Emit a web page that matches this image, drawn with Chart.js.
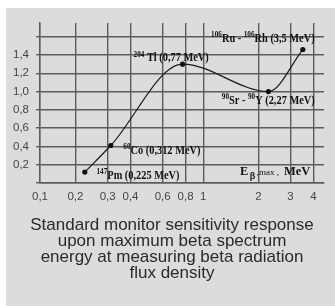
<!DOCTYPE html>
<html>
<head>
<meta charset="utf-8">
<script src="https://cdn.jsdelivr.net/npm/chart.js@4.4.1/dist/chart.umd.min.js"></script>
<style>
  html, body { margin: 0; padding: 0; background: #ffffff; }
  #panel { position: absolute; left: 6px; top: 8px; width: 329px; height: 298px; background: #dcdcdc; }
  #wrap { position: absolute; left: 0; top: 0; width: 335px; height: 307px; }
</style>
</head>
<body>
<div id="panel"></div>
<div id="wrap"><canvas id="c" width="335" height="307"></canvas></div>
<script>
// ---- data ----
const isotopes = ['147Pm', '60Co', '204Tl', '90Sr-90Y', '106Ru-106Rh'];
const energyMeV = [0.225, 0.312, 0.77, 2.27, 3.5];
const sensitivity = [0.12, 0.41, 1.30, 1.0, 1.46];
const xTickValues = [0.1, 0.2, 0.3, 0.4, 0.6, 0.8, 1, 2, 3, 4];
const xTickLabels = ['0,1', '0,2', '0,3', '0,4', '0,6', '0,8', '1', '2', '3', '4'];
const yTickValues = [0, 0.2, 0.4, 0.6, 0.8, 1.0, 1.2, 1.4, 1.6];
const yTickLabels = ['', '0,2', '0,4', '0,6', '0,8', '1,0', '1,2', '1,4', ''];
const pointLabels = [
  [['147', true], ['Pm (0,225 MeV)', false]],
  [['60', true], ['Co (0,312 MeV)', false]],
  [['204', true], [' Tl (0,77 MeV)', false]],
  [['90', true], ['Sr - ', false], ['90', true], ['Y (2,27 MeV)', false]],
  [['106', true], ['Ru - ', false], ['106', true], ['Rh (3,5 MeV)', false]]
];
const titleLines = ['Standard monitor sensitivity response', 'upon maximum beta spectrum', 'energy at measuring beta radiation', 'flux density'];

// label placement relative to its point (dx to text start, dy to baseline)
const labelOffsets = [[11.7, 6.6], [12.6, 8], [-49, -3], [-46.6, 12.3], [-91.7, -8]];

const serif = '"Liberation Serif", "Times New Roman", serif';
const sans = '"Liberation Sans", Arial, sans-serif';

const annot = {
  id: 'annot',
  afterDatasetsDraw(chart) {
    const ctx = chart.ctx;
    const xs = chart.scales.x, ys = chart.scales.y;
    const sx = 0.9;
    ctx.save();
    ctx.fillStyle = '#111';
    ctx.textBaseline = 'alphabetic';
    ctx.textAlign = 'left';
    pointLabels.forEach((parts, i) => {
      const px = xs.getPixelForValue(energyMeV[i]);
      const py = ys.getPixelForValue(sensitivity[i]);
      let x = px + labelOffsets[i][0];
      const base = py + labelOffsets[i][1];
      parts.forEach(([t, sup]) => {
        ctx.font = sup ? 'bold 8px ' + serif : 'bold 11.5px ' + serif;
        const w = ctx.measureText(t).width * sx;
        ctx.save();
        ctx.translate(x, sup ? base - 4.5 : base);
        ctx.scale(sx, 1);
        ctx.fillText(t, 0, 0);
        ctx.restore();
        x += w;
      });
    });
    // axis title inside plot
    const ca = chart.chartArea;
    const b = ca.bottom - 8;
    let x = ca.right - 84;
    ctx.font = 'bold 12.5px ' + serif;
    ctx.fillText('E', x, b);
    x += ctx.measureText('E').width + 1.5;
    ctx.font = 'bold 9px ' + sans;
    ctx.fillText('β', x, b + 4);
    x += ctx.measureText('β').width + 1.5;
    ctx.font = '9px ' + serif;
    ctx.fillText(',max ,', x, b - 0.5);
    ctx.font = 'bold 12.5px ' + serif;
    ctx.fillText('MeV', ca.right - 40, b);
    ctx.restore();
  },
  afterDraw(chart) {
    const ctx = chart.ctx;
    ctx.save();
    ctx.fillStyle = '#2a2a2a';
    ctx.font = '17px ' + sans;
    ctx.textAlign = 'center';
    ctx.textBaseline = 'middle';
    titleLines.forEach((t, i) => ctx.fillText(t, 172, 225 + i * 16.2));
    ctx.restore();
  }
};

new Chart(document.getElementById('c'), {
  type: 'line',
  data: {
    labels: isotopes,
    datasets: [{
      data: energyMeV.map((e, i) => ({ x: e, y: sensitivity[i] })),
      borderColor: '#1a1a1a',
      borderWidth: 1.2,
      backgroundColor: '#111',
      pointRadius: 2.6,
      pointBorderWidth: 0,
      pointBackgroundColor: '#111',
      cubicInterpolationMode: 'monotone',
      fill: false
    }]
  },
  options: {
    responsive: false,
    animation: false,
    devicePixelRatio: 1,
    layout: { padding: { left: 0, right: 11, top: 23, bottom: 98.3 } },
    plugins: {
      legend: { display: false },
      tooltip: { enabled: false },
      title: { display: false }
    },
    scales: {
      x: {
        type: 'logarithmic',
        min: 0.128,
        max: 4.57,
        afterBuildTicks(scale) {
          scale.ticks = xTickValues.map(v => ({ value: Math.max(v, scale.min) }));
        },
        afterFit(scale) { scale.height = 25.7; },
        grid: { color: '#5c5c5c', lineWidth: 1.4, drawTicks: false },
        border: { color: '#5c5c5c', width: 1.4 },
        ticks: {
          autoSkip: false,
          maxRotation: 0,
          padding: 7,
          color: '#444',
          font: { family: sans, size: 11.5 },
          callback: (v, i) => xTickLabels[i]
        }
      },
      y: {
        type: 'linear',
        min: 0,
        max: 1.75,
        afterBuildTicks(scale) {
          scale.ticks = yTickValues.map(v => ({ value: v }));
        },
        afterFit(scale) { scale.width = 40; },
        grid: { color: '#5c5c5c', lineWidth: 1.4, tickLength: 4 },
        border: { color: '#5c5c5c', width: 1.4 },
        ticks: {
          autoSkip: false,
          padding: 7,
          color: '#444',
          font: { family: sans, size: 11.5 },
          callback: (v, i) => yTickLabels[i]
        }
      }
    }
  },
  plugins: [annot]
});
</script>
</body>
</html>
